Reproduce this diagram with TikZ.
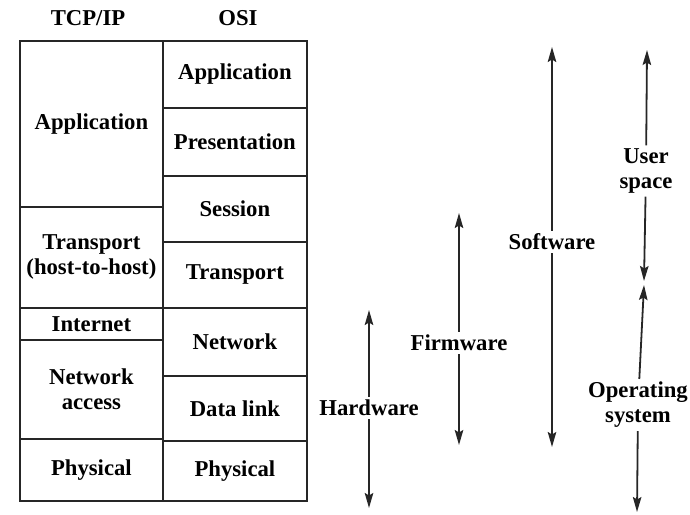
\documentclass[tikz,border=0pt]{standalone}
\usepackage{fontspec}
\setmainfont{Liberation Serif}
\usetikzlibrary{arrows.meta}
\begin{document}
\begin{tikzpicture}[x=1pt,y=-1pt,
  every node/.style={font=\fontsize{22.7}{25}\selectfont\bfseries},
  cell/.style={draw=black!85,line width=1.8pt,rectangle,inner sep=0pt,align=center,anchor=north west},
  hdr/.style={inner sep=0pt},
  lbl/.style={align=center,inner sep=3pt,fill=white},
  extentarrow/.style={draw=black!85,line width=1.8pt,-{Stealth[length=15pt,width=8.5pt,inset=2.5pt]}}]
\useasboundingbox (0,0) rectangle (690,514);

% column headings
\node[hdr] (htcp) at (88,18) {TCP/IP};
\node[hdr] (hosi) at (238,18) {OSI};

% TCP/IP stack
\node[cell,minimum width=143pt,minimum height=166pt] (tapp) at (19,40) {};
\node at (tapp.center) {Application};
\node[cell,minimum width=143pt,minimum height=101pt] (ttra) at (19,206) {Transport\\(host-to-host)};
\node[cell,minimum width=143pt,minimum height=32pt]  (tint) at (19,307) {Internet};
\node[cell,minimum width=143pt,minimum height=99pt]  (tnet) at (19,339) {Network\\access};
\node[cell,minimum width=143pt,minimum height=62pt]  (tphy) at (19,438) {Physical};

% OSI stack
\node[cell,minimum width=144pt,minimum height=67pt] (oapp) at (162,40)  {Application};
\node[cell,minimum width=144pt,minimum height=68pt] (opre) at (162,107) {Presentation};
\node[cell,minimum width=144pt,minimum height=66pt] (oses) at (162,175) {Session};
\node[cell,minimum width=144pt,minimum height=66pt] (otra) at (162,241) {Transport};
\node[cell,minimum width=144pt,minimum height=68pt] (onet) at (162,307) {Network};
\node[cell,minimum width=144pt,minimum height=65pt] (odat) at (162,375) {Data link};
\node[cell,minimum width=144pt,minimum height=60pt] (ophy) at (162,440) {Physical};

% extent arrows
\coordinate (hwT) at (369,310);  \coordinate (hwB) at (369,508);
\coordinate (fwT) at (459,213);  \coordinate (fwB) at (459,445);
\coordinate (swT) at (552,47);   \coordinate (swB) at (552,447);
\coordinate (usT) at (647,50);   \coordinate (usB) at (644,281);
\coordinate (osT) at (644,285);  \coordinate (osB) at (637,512);

\node[lbl] (hw) at (369,408) {Hardware};
\node[lbl] (fw) at (459,343) {Firmware};
\node[lbl] (sw) at (552,242) {Software};
\node[lbl] (us) at (646,171) {User\\space};
\node[lbl] (os) at (638,405) {Operating\\system};

\draw[extentarrow] (hw) -- (hwT);  \draw[extentarrow] (hw) -- (hwB);
\draw[extentarrow] (fw) -- (fwT);  \draw[extentarrow] (fw) -- (fwB);
\draw[extentarrow] (sw) -- (swT);  \draw[extentarrow] (sw) -- (swB);
\draw[extentarrow] (us) -- (usT);  \draw[extentarrow] (us) -- (usB);
\draw[extentarrow] (os) -- (osT);  \draw[extentarrow] (os) -- (osB);
\end{tikzpicture}
\end{document}
